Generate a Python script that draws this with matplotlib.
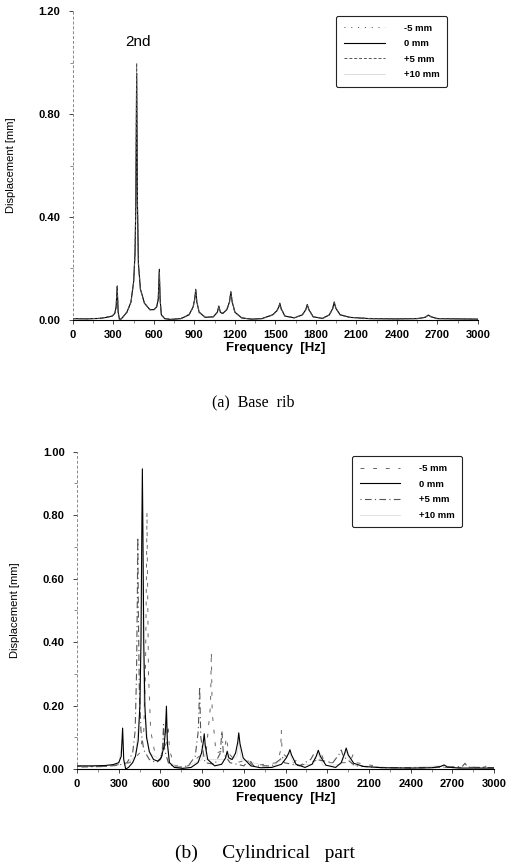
import numpy as np
import matplotlib
matplotlib.use("Agg")
import matplotlib.pyplot as plt
from matplotlib.ticker import MultipleLocator, FixedLocator

plt.rcParams['font.family'] = ['Liberation Sans', 'DejaVu Sans']

# ---------------- (a) Base rib ----------------
freq_a = [0, 100, 200, 250, 290, 310, 320, 328, 335, 345, 360, 400, 430, 450, 460,
          466, 472, 478, 485, 500, 530, 570, 600, 620, 632, 640, 646, 655, 680, 720,
          800, 860, 890, 902, 910, 918, 935, 980, 1040, 1070, 1081, 1092, 1110, 1140,
          1160, 1170, 1180, 1200, 1250, 1320, 1400, 1480, 1510, 1525, 1533, 1542, 1570,
          1640, 1700, 1725, 1736, 1748, 1780, 1850, 1900, 1925, 1936, 1948, 1980, 2050,
          2200, 2400, 2550, 2610, 2632, 2655, 2700, 2850, 3000]

disp_a_0 = [0.005, 0.004, 0.006, 0.010, 0.015, 0.025, 0.050, 0.132, 0.030, 0.000,
            0.005, 0.030, 0.070, 0.150, 0.260, 0.450, 0.960, 0.450, 0.220, 0.120,
            0.065, 0.040, 0.040, 0.050, 0.080, 0.197, 0.080, 0.020, 0.005, 0.002,
            0.005, 0.020, 0.050, 0.080, 0.119, 0.070, 0.030, 0.010, 0.012, 0.030,
            0.054, 0.030, 0.025, 0.040, 0.070, 0.110, 0.070, 0.030, 0.008, 0.003,
            0.005, 0.020, 0.035, 0.050, 0.065, 0.045, 0.015, 0.008, 0.020, 0.040,
            0.060, 0.040, 0.012, 0.006, 0.020, 0.045, 0.070, 0.045, 0.020, 0.010,
            0.005, 0.004, 0.005, 0.010, 0.019, 0.012, 0.005, 0.004, 0.003]

disp_a_m5 = [0.004, 0.004, 0.007, 0.012, 0.016, 0.026, 0.048, 0.125, 0.028, 0.002,
             0.006, 0.032, 0.072, 0.155, 0.270, 0.470, 0.990, 0.470, 0.230, 0.125,
             0.066, 0.041, 0.042, 0.052, 0.085, 0.190, 0.075, 0.018, 0.006, 0.003,
             0.006, 0.022, 0.052, 0.085, 0.112, 0.066, 0.028, 0.011, 0.013, 0.031,
             0.050, 0.028, 0.024, 0.042, 0.075, 0.105, 0.066, 0.028, 0.009, 0.004,
             0.006, 0.021, 0.036, 0.052, 0.060, 0.042, 0.016, 0.009, 0.021, 0.042,
             0.057, 0.038, 0.013, 0.007, 0.021, 0.047, 0.066, 0.042, 0.021, 0.011,
             0.006, 0.005, 0.006, 0.011, 0.017, 0.011, 0.006, 0.005, 0.004]

disp_a_p5 = [0.005, 0.005, 0.006, 0.011, 0.014, 0.024, 0.052, 0.128, 0.032, 0.001,
             0.005, 0.029, 0.068, 0.148, 0.255, 0.460, 1.000, 0.460, 0.215, 0.118,
             0.064, 0.039, 0.039, 0.049, 0.082, 0.185, 0.078, 0.021, 0.005, 0.002,
             0.005, 0.019, 0.048, 0.078, 0.115, 0.072, 0.031, 0.010, 0.012, 0.029,
             0.052, 0.031, 0.026, 0.039, 0.068, 0.108, 0.072, 0.031, 0.008, 0.003,
             0.005, 0.019, 0.034, 0.049, 0.062, 0.046, 0.015, 0.008, 0.019, 0.039,
             0.058, 0.041, 0.012, 0.006, 0.019, 0.044, 0.068, 0.046, 0.019, 0.010,
             0.005, 0.004, 0.005, 0.010, 0.018, 0.012, 0.005, 0.004, 0.003]

disp_a_p10 = [0.005, 0.004, 0.006, 0.010, 0.015, 0.025, 0.050, 0.120, 0.030, 0.001,
              0.005, 0.030, 0.070, 0.150, 0.250, 0.440, 0.940, 0.440, 0.220, 0.120,
              0.065, 0.040, 0.040, 0.050, 0.080, 0.180, 0.080, 0.020, 0.005, 0.002,
              0.005, 0.020, 0.050, 0.080, 0.110, 0.070, 0.030, 0.010, 0.012, 0.030,
              0.050, 0.030, 0.025, 0.040, 0.070, 0.100, 0.070, 0.030, 0.008, 0.003,
              0.005, 0.020, 0.035, 0.050, 0.060, 0.045, 0.015, 0.008, 0.020, 0.040,
              0.055, 0.040, 0.012, 0.006, 0.020, 0.045, 0.065, 0.045, 0.020, 0.010,
              0.005, 0.004, 0.005, 0.010, 0.017, 0.012, 0.005, 0.004, 0.003]

# ---------------- (b) Cylindrical part ----------------
freq_b_0 = [0, 100, 200, 260, 300, 318, 328, 336, 350, 370, 400, 420, 440, 452, 460,
            466, 470, 474, 480, 488, 500, 520, 550, 580, 605, 625, 636, 643, 650, 665,
            700, 760, 820, 870, 895, 908, 915, 922, 940, 990, 1040, 1068, 1080, 1092,
            1115, 1140, 1156, 1163, 1172, 1195, 1250, 1320, 1400, 1470, 1505, 1522, 1531,
            1542, 1575, 1640, 1690, 1720, 1735, 1750, 1790, 1860, 1900, 1925, 1936, 1950,
            1990, 2060, 2200, 2400, 2550, 2615, 2640, 2665, 2750, 2900, 3000]
disp_b_0 = [0.010, 0.010, 0.011, 0.014, 0.020, 0.040, 0.129, 0.030, 0.000, 0.005,
            0.020, 0.040, 0.090, 0.200, 0.400, 0.750, 0.946, 0.750, 0.400, 0.200,
            0.100, 0.055, 0.030, 0.025, 0.035, 0.070, 0.120, 0.198, 0.080, 0.020,
            0.005, 0.002, 0.005, 0.020, 0.050, 0.085, 0.111, 0.075, 0.030, 0.010,
            0.015, 0.035, 0.056, 0.035, 0.030, 0.050, 0.085, 0.114, 0.080, 0.035,
            0.010, 0.004, 0.005, 0.015, 0.035, 0.050, 0.061, 0.045, 0.015, 0.005,
            0.015, 0.040, 0.059, 0.040, 0.012, 0.005, 0.020, 0.050, 0.066, 0.045,
            0.018, 0.008, 0.004, 0.003, 0.004, 0.008, 0.013, 0.006, 0.003, 0.003,
            0.003]

freq_b_m5 = [0, 200, 320, 380, 450, 480, 492, 499, 503, 507, 514, 530, 560, 610, 640,
             655, 665, 700, 800, 930, 960, 966, 972, 1000, 1060, 1075, 1090, 1150, 1230,
             1260, 1440, 1465, 1469, 1475, 1560, 1580, 1600, 1740, 1760, 1780, 1960, 1985,
             2010, 2200, 2500, 2930, 2950, 2970, 3000]
disp_b_m5 = [0.008, 0.008, 0.015, 0.020, 0.050, 0.120, 0.300, 0.600, 0.810, 0.600,
             0.300, 0.120, 0.050, 0.040, 0.080, 0.140, 0.060, 0.010, 0.010, 0.060,
             0.200, 0.370, 0.180, 0.050, 0.060, 0.100, 0.050, 0.020, 0.030, 0.010,
             0.020, 0.060, 0.123, 0.050, 0.020, 0.030, 0.010, 0.030, 0.045, 0.020,
             0.020, 0.045, 0.020, 0.005, 0.004, 0.006, 0.012, 0.005, 0.004]

freq_b_p5 = [0, 200, 300, 360, 400, 418, 428, 434, 437, 441, 448, 460, 480, 520, 570,
             600, 615, 622, 630, 660, 720, 800, 850, 872, 882, 890, 920, 990, 1030, 1042,
             1052, 1100, 1200, 1240, 1270, 1400, 1460, 1475, 1490, 1600, 1680, 1700, 1720,
             1840, 1890, 1900, 1915, 2000, 2200, 2500, 2770, 2790, 2810, 3000]
disp_b_p5 = [0.006, 0.008, 0.012, 0.020, 0.050, 0.120, 0.300, 0.550, 0.730, 0.500,
             0.250, 0.120, 0.060, 0.030, 0.020, 0.030, 0.060, 0.140, 0.060, 0.015,
             0.005, 0.010, 0.040, 0.120, 0.260, 0.100, 0.020, 0.015, 0.050, 0.120,
             0.050, 0.020, 0.010, 0.030, 0.010, 0.010, 0.030, 0.040, 0.020, 0.010,
             0.030, 0.045, 0.030, 0.020, 0.050, 0.060, 0.040, 0.010, 0.004, 0.004,
             0.008, 0.018, 0.006, 0.004]

freq_b_p10 = [0, 200, 300, 325, 340, 420, 455, 468, 480, 520, 600, 640, 660, 760, 900,
              912, 930, 1070, 1080, 1090, 1150, 1165, 1180, 1400, 1528, 1560, 1700, 1732,
              1770, 1900, 1934, 1980, 2300, 2640, 2700, 3000]
disp_b_p10 = [0.008, 0.009, 0.015, 0.090, 0.010, 0.040, 0.200, 0.700, 0.200, 0.050,
              0.030, 0.160, 0.020, 0.003, 0.030, 0.090, 0.030, 0.030, 0.045, 0.025,
              0.040, 0.090, 0.030, 0.005, 0.050, 0.012, 0.015, 0.050, 0.010, 0.015,
              0.055, 0.012, 0.003, 0.011, 0.003, 0.003]

labels = ['-5 mm', '0 mm', '+5 mm', '+10 mm']

fig = plt.figure(figsize=(5.10, 8.67), dpi=100)
ax1 = fig.add_axes([0.143, 0.631, 0.794, 0.356])
ax2 = fig.add_axes([0.151, 0.113, 0.818, 0.366])


def style_axes(ax, ymax, major, minor):
    ax.set_xlim(0, 3000)
    ax.set_ylim(0, ymax)
    ax.spines['top'].set_visible(False)
    ax.spines['right'].set_visible(False)
    ax.spines['left'].set_linestyle((0, (2, 3)))
    ax.spines['left'].set_color('#888888')
    ax.spines['left'].set_linewidth(0.7)
    ax.spines['bottom'].set_linewidth(0.8)
    ax.xaxis.set_major_locator(MultipleLocator(300))
    ax.xaxis.set_minor_locator(MultipleLocator(150))
    ax.yaxis.set_major_locator(MultipleLocator(major))
    ax.yaxis.set_minor_locator(MultipleLocator(minor))
    ax.yaxis.set_major_formatter(matplotlib.ticker.FormatStrFormatter('%.2f'))
    ax.tick_params(axis='both', which='major', labelsize=8, length=3, width=0.7,
                   color='#444444')
    ax.tick_params(axis='both', which='minor', length=2, width=0.6, color='#777777')
    ax.tick_params(axis='y', pad=6)
    ax.tick_params(axis='x', pad=4)
    for lab in ax.get_xticklabels() + ax.get_yticklabels():
        lab.set_fontweight('bold')
    ax.set_xlabel('Frequency  [Hz]', fontsize=9.5, fontweight='bold', labelpad=2)
    ax.set_ylabel('Displacement [mm]', fontsize=8, labelpad=16)


def add_legend(ax):
    h, l = ax.get_legend_handles_labels()
    order = [1, 2, 3, 0]
    leg = ax.legend([h[i] for i in order], [l[i] for i in order], loc='upper right',
                    bbox_to_anchor=(0.935, 1.0), fontsize=6.8, handlelength=4.3,
                    handletextpad=2.0, labelspacing=0.7, borderpad=0.8, fancybox=True,
                    edgecolor='#222222', framealpha=1)
    leg.get_frame().set_linewidth(0.8)
    for t in leg.get_texts():
        t.set_fontweight('bold')


# top chart
ax1.plot(freq_a, disp_a_p10, color='#d8d8d8', lw=0.6, label=labels[3], zorder=1)
ax1.plot(freq_a, disp_a_m5, color='#444444', lw=0.7, ls=(0, (1, 6)), label=labels[0], zorder=3)
ax1.plot(freq_a, disp_a_0, color='black', lw=0.8, label=labels[1], zorder=2)
ax1.plot(freq_a, disp_a_p5, color='#555555', lw=0.7, ls=(0, (3, 2)), label=labels[2], zorder=4)
style_axes(ax1, 1.2, 0.4, 0.2)
ax1.text(480, 1.055, '2nd', fontsize=11, ha='center', va='bottom')
add_legend(ax1)

# bottom chart
ax2.plot(freq_b_p10, disp_b_p10, color='#dcdcdc', lw=0.6, label=labels[3], zorder=1)
ax2.plot(freq_b_m5, disp_b_m5, color='#666666', lw=0.7, ls=(0, (4, 9)), label=labels[0], zorder=3)
ax2.plot(freq_b_0, disp_b_0, color='black', lw=0.8, label=labels[1], zorder=4)
ax2.plot(freq_b_p5, disp_b_p5, color='#555555', lw=0.8, ls=(0, (1, 3, 6, 3)), label=labels[2], zorder=2)
style_axes(ax2, 1.0, 0.2, 0.1)
add_legend(ax2)

fig.text(0.497, 1 - 402 / 867, '(a)  Base  rib', fontsize=11.5, ha='center', va='center',
         family=['Liberation Serif', 'DejaVu Serif'])
fig.text(0.52, 1 - 853 / 867, '(b)     Cylindrical   part', fontsize=14, ha='center',
         va='center', family=['Liberation Serif', 'DejaVu Serif'])

fig.savefig('out.png', dpi=100)
